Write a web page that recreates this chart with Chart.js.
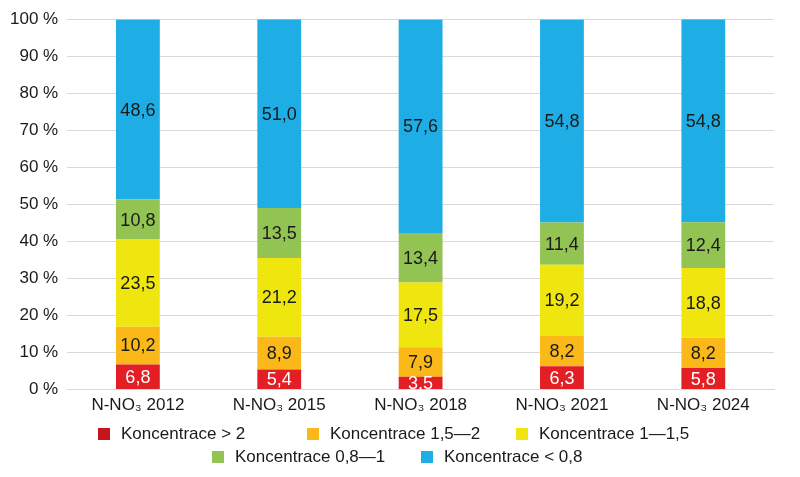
<!DOCTYPE html>
<html>
<head>
<meta charset="utf-8">
<script src="https://cdn.jsdelivr.net/npm/chart.js@4.4.1/dist/chart.umd.min.js"></script>
<style>
    html, body { margin: 0; padding: 0; background: #fff; }
    .wrap { position: relative; width: 800px; height: 477px; }
    #legend { position: absolute; left: 0; top: 422px; width: 800px; font-family: "Liberation Sans", Arial, sans-serif; font-size: 17px; color: #1a1a1a; }
    .legend-row { display: flex; height: 23px; align-items: center; }
    .legend-item { display: flex; align-items: center; width: 209px; }
    .legend-color { width: 12px; height: 12px; margin-right: 11px; flex: none; }
</style>
</head>
<body>
<div class="wrap">
    <canvas id="myBarChart" width="800" height="477"></canvas>
    <div id="legend"></div>
</div>
<script>
const categories = ['N-NO\u2083 2012', 'N-NO\u2083 2015', 'N-NO\u2083 2018', 'N-NO\u2083 2021', 'N-NO\u2083 2024'];
const seriesNames = ['Koncentrace > 2', 'Koncentrace 1,5\u20142', 'Koncentrace 1\u20141,5', 'Koncentrace 0,8\u20141', 'Koncentrace < 0,8'];
const over2 = [6.8, 5.4, 3.5, 6.3, 5.8];
const from15to2 = [10.2, 8.9, 7.9, 8.2, 8.2];
const from1to15 = [23.5, 21.2, 17.5, 19.2, 18.8];
const from08to1 = [10.8, 13.5, 13.4, 11.4, 12.4];
const under08 = [48.6, 51.0, 57.6, 54.8, 54.8];
const yTicks = [0, 10, 20, 30, 40, 50, 60, 70, 80, 90, 100];

const colors = ['#e31e25', '#fbb919', '#f0e60f', '#93c353', '#1eaee5'];
const legendColors = ['#c4161c', '#fbb919', '#f0e60f', '#93c353', '#1eaee5'];
const labelColors = ['#ffffff', '#1a1a1a', '#1a1a1a', '#1a1a1a', '#1a1a1a'];

const values = [over2, from15to2, from1to15, from08to1, under08];

const data = {
    labels: categories,
    datasets: values.map((v, i) => ({
        label: seriesNames[i],
        data: v,
        backgroundColor: colors[i],
        borderWidth: 0,
        barPercentage: 0.31,
        categoryPercentage: 1
    }))
};

// inline value labels (no datalabels plugin available)
const valueLabels = {
    id: 'valueLabels',
    afterDatasetsDraw(chart) {
        const ctx = chart.ctx;
        ctx.save();
        ctx.font = '18px "Liberation Sans Narrow", "Liberation Sans", sans-serif';
        ctx.textAlign = 'center';
        ctx.textBaseline = 'middle';
        chart.data.datasets.forEach((ds, i) => {
            const meta = chart.getDatasetMeta(i);
            meta.data.forEach((bar, j) => {
                const p = bar.getCenterPoint();
                ctx.fillStyle = labelColors[i];
                ctx.fillText(ds.data[j].toFixed(1).replace('.', ','), p.x, p.y + 1);
            });
        });
        ctx.restore();
    }
};

const options = {
    responsive: false,
    animation: false,
    layout: {
        padding: { top: 11, right: 26, bottom: 55, left: 1 }
    },
    plugins: {
        legend: { display: false },
        tooltip: { enabled: false }
    },
    scales: {
        x: {
            stacked: true,
            grid: { display: false, drawTicks: false },
            border: { display: true, color: '#d9d9d9' },
            ticks: {
                color: '#1a1a1a',
                padding: 6,
                font: { family: '"Liberation Sans", Arial, sans-serif', size: 17 }
            }
        },
        y: {
            stacked: true,
            min: 0,
            max: 100,
            afterBuildTicks: axis => { axis.ticks = yTicks.map(v => ({ value: v })); },
            grid: { color: '#d9d9d9', drawTicks: false },
            border: { display: false },
            ticks: {
                color: '#1a1a1a',
                padding: 9,
                font: { family: '"Liberation Sans", Arial, sans-serif', size: 17 },
                callback: v => v + ' %'
            }
        }
    }
};

const ctx = document.getElementById('myBarChart').getContext('2d');
const myBarChart = new Chart(ctx, {
    type: 'bar',
    data: data,
    options: options,
    plugins: [valueLabels]
});

const legend = document.getElementById('legend');
const rows = [[0, 1, 2], [3, 4]];
const rowStart = [98, 212];
rows.forEach((row, r) => {
    let html = `<div class="legend-row" style="margin-left:${rowStart[r]}px">`;
    row.forEach(index => {
        html += `
        <div class="legend-item">
          <div class="legend-color" style="background-color: ${legendColors[index]};"></div>
          <div class="legend-text">${seriesNames[index].replace('<', '&lt;').replace('>', '&gt;')}</div>
        </div>`;
    });
    html += '</div>';
    legend.innerHTML += html;
});
</script>
</body>
</html>
